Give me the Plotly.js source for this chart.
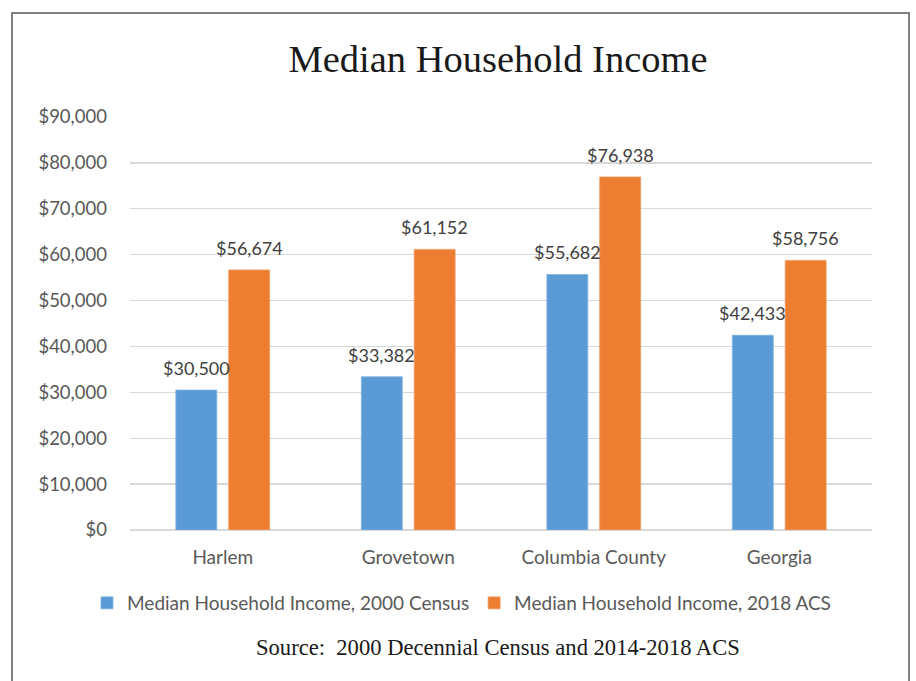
<!DOCTYPE html>
<html>
<head>
<meta charset="utf-8">
<script src="https://cdn.plot.ly/plotly-3.0.1.min.js"></script>
<style>
  html, body { margin: 0; padding: 0; background: #ffffff; }
  #wrap { position: relative; width: 916px; height: 681px; overflow: hidden; }
  #chart { position: absolute; left: 0; top: 0; width: 916px; height: 681px; }
  #frame { position: absolute; left: 11px; top: 12px; width: 899px; height: 700px;
           border: 2px solid #808080; pointer-events: none; box-sizing: border-box; }
</style>
</head>
<body>
<div id="wrap">
  <div id="chart"></div>
  <div id="frame"></div>
</div>
<script>
const categories = ["Harlem", "Grovetown", "Columbia County", "Georgia"];
const income2000 = [30500, 33382, 55682, 42433];
const income2018 = [56674, 61152, 76938, 58756];
const seriesNames = ["Median Household Income, 2000 Census", "Median Household Income, 2018 ACS"];
const yTickVals = [0, 10000, 20000, 30000, 40000, 50000, 60000, 70000, 80000, 90000];
const yTickText = ["$0", "$10,000", "$20,000", "$30,000", "$40,000", "$50,000", "$60,000", "$70,000", "$80,000", "$90,000"];
const titleText = "Median Household Income";
const sourceText = "Source:  2000 Decennial Census and 2014-2018 ACS";

const sans = "Lato, 'Open Sans', sans-serif";
const serif = "'Liberation Serif', 'DejaVu Serif', serif";
const labelColor = "#404040";
const tickColor = "#595959";

const BARGAP = 0.43;
const slot = (1 - BARGAP) / 2;
const fmt = v => "$" + v.toLocaleString("en-US");

const traces = [
  { type: "bar", name: seriesNames[0], x: categories, y: income2000,
    marker: { color: "#5B9BD5", line: { color: "#7fb1e0", width: 0.8 } }, hoverinfo: "y" },
  { type: "bar", name: seriesNames[1], x: categories, y: income2018,
    marker: { color: "#ED7D31", line: { color: "#f19a5e", width: 0.8 } }, hoverinfo: "y" }
];

const T = 117, B = 151, H = 681, W = 916, L = 130, R = 44;
const plotH = H - T - B, plotW = W - L - R;

const annotations = [];
[income2000, income2018].forEach((series, s) => {
  const off = (s === 0 ? -1 : 1) * slot / 2;
  series.forEach((v, i) => {
    annotations.push({
      x: i + off, y: v, xref: "x", yref: "y", text: fmt(v), showarrow: false,
      xanchor: "center", yanchor: "bottom", yshift: 9,
      font: { family: sans, size: 18, color: labelColor }
    });
  });
});
annotations.push({
  x: (498 - L) / plotW, y: (H - B - 647) / plotH, xref: "paper", yref: "paper",
  text: sourceText, showarrow: false, xanchor: "center", yanchor: "middle",
  font: { family: serif, size: 22.6, color: "#1a1a1a" }
});

const layout = {
  width: W, height: H,
  margin: { l: L, r: R, t: T, b: B, pad: 0, autoexpand: false },
  paper_bgcolor: "#ffffff", plot_bgcolor: "#ffffff",
  title: { text: titleText, font: { family: serif, size: 38.5, color: "#1a1a1a" },
           xref: "paper", x: (498 - L) / plotW, xanchor: "center",
           yref: "container", y: 1 - 59 / H, yanchor: "middle" },
  barmode: "group", bargap: BARGAP, bargroupgap: 0.226,
  showlegend: true,
  legend: { orientation: "h", xref: "paper", x: (87 - L) / plotW, xanchor: "left",
            yref: "paper", y: (H - B - 603) / plotH, yanchor: "middle",
            font: { family: sans, size: 19, color: tickColor },
            itemwidth: 30, traceorder: "normal" },
  xaxis: { type: "category", showgrid: false, showline: false, zeroline: false,
           ticks: "", tickfont: { family: sans, size: 19, color: tickColor },
           ticklabelstandoff: 14 },
  yaxis: { range: [0, 90000], tickvals: yTickVals, ticktext: yTickText,
           showgrid: true, gridcolor: "#d9d9d9", gridwidth: 1.3,
           zeroline: true, zerolinecolor: "#d9d9d9", zerolinewidth: 1.3,
           showline: false, ticks: "", ticklabelstandoff: 22,
           tickfont: { family: sans, size: 18.5, color: tickColor } },
  annotations: annotations
};

Plotly.newPlot("chart", traces, layout, { displayModeBar: false, staticPlot: true });
</script>
</body>
</html>
